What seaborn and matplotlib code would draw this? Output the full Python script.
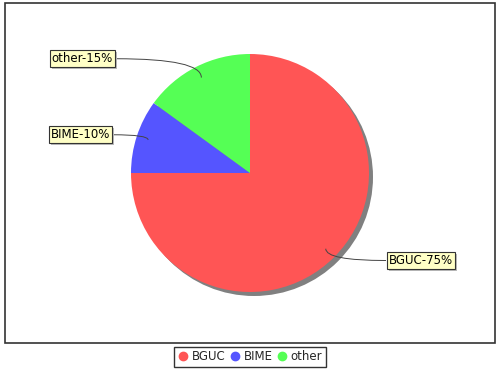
import numpy as np
import matplotlib
matplotlib.use("Agg")
import matplotlib.pyplot as plt
import seaborn as sns
from matplotlib.patches import Rectangle, Circle, PathPatch
from matplotlib.path import Path
from matplotlib.lines import Line2D

sns.set_theme(style="white")
plt.rcParams['font.family'] = ['DejaVu Sans']

categories = ["BGUC", "BIME", "other"]
values = [75, 10, 15]
labels = ["BGUC-75%", "BIME-10%", "other-15%"]
colors = ["#FF5555", "#5555FF", "#55FF55"]

W, H = 500, 370
fig = plt.figure(figsize=(W / 100, H / 100), dpi=100)
ax = fig.add_axes([0, 0, 1, 1])
ax.set_xlim(0, W)
ax.set_ylim(0, H)
ax.axis("off")

def py(p):
    return H - p

# plot border
ax.add_patch(Rectangle((5, py(343)), 490, 340, fill=False, edgecolor="#333333", lw=1.2, zorder=1))

cx, cy, r = 250, py(173), 119
# shadow
ax.add_patch(Circle((cx + 4, cy - 4), r, facecolor="#808080", edgecolor="none", zorder=2))
wedges, _ = ax.pie(values, colors=colors, startangle=90, counterclock=False,
                   center=(cx, cy), radius=r, frame=True,
                   wedgeprops=dict(linewidth=0, zorder=3))
for w in wedges:
    w.set_zorder(3)
ax.set_xlim(0, W)
ax.set_ylim(0, H)
ax.axis("off")

# labels
total = sum(values)
start = 90.0
label_r = 1.04 * r
for val, lab in zip(values, labels):
    span = 360.0 * val / total
    mid = np.deg2rad(start - span / 2)
    start -= span
    axx = cx + 0.9 * r * np.cos(mid)
    axy = cy + 0.9 * r * np.sin(mid)
    ly = cy + label_r * np.sin(mid)
    if np.sin(mid) > 0.5:
        ly += 4
    right = np.cos(mid) > 0
    if right:
        ex = 386
        tx = ex + 3
        ha = "left"
    else:
        ex = 116 if np.sin(mid) > 0.5 else 113
        tx = ex - 3
        ha = "right"
    path = Path([(ex, ly), (axx, ly), (axx, axy)], [Path.MOVETO, Path.CURVE3, Path.CURVE3])
    ax.add_patch(PathPatch(path, facecolor="none", edgecolor="#444444", lw=0.7, zorder=4))
    t = ax.text(tx, ly, lab, ha=ha, va="center", fontsize=8.5, color="black", zorder=6,
                bbox=dict(boxstyle="square,pad=0.18", facecolor="#FFFFC6", edgecolor="#333333", lw=0.8))
    # bbox shadow
    fig.canvas.draw()
    bb = t.get_bbox_patch().get_window_extent()
    ax.add_patch(Rectangle((bb.x0 + 2, bb.y0 - 2), bb.width, bb.height, facecolor="#BBBBBB",
                           edgecolor="none", zorder=5))

handles = [Line2D([], [], marker="o", linestyle="none", markersize=6,
                  markerfacecolor=c, markeredgecolor=c) for c in colors]
leg = fig.legend(handles, categories, loc="lower center", bbox_to_anchor=(0.5, 0.008), ncol=3,
                 frameon=True, fancybox=False, fontsize=8.5, handletextpad=0.3,
                 columnspacing=0.3, borderpad=0.3, handlelength=0.9, borderaxespad=0)
leg.get_frame().set_edgecolor("black")
leg.get_frame().set_linewidth(1.0)

fig.savefig("out.png", dpi=100, facecolor="white")
